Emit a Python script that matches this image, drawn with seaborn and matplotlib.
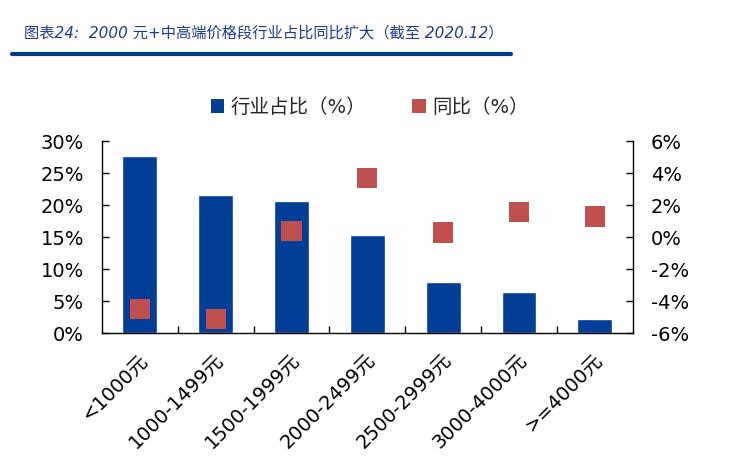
import matplotlib
matplotlib.use("Agg")
import matplotlib.pyplot as plt
import matplotlib.transforms as mtransforms
import seaborn as sns
import pandas as pd
from matplotlib.ticker import FuncFormatter, FixedLocator
from matplotlib.lines import Line2D
from matplotlib.patches import Patch

categories = ["<1000元", "1000-1499元", "1500-1999元", "2000-2499元",
              "2500-2999元", "3000-4000元", ">=4000元"]
share = [27.7, 21.6, 20.7, 15.4, 8.0, 6.4, 2.3]
yoy = [-4.5, -5.1, 0.4, 3.7, 0.3, 1.6, 1.3]

title = "图表24:  2000 元+中高端价格段行业占比同比扩大（截至 2020.12）"
legend_labels = ["行业占比（%）", "同比（%）"]

sns.set_theme(style="white")
plt.rcParams["font.family"] = ["DejaVu Sans", "Noto Sans CJK SC"]

BLUE = "#003E97"
RED = "#C0504D"

df = pd.DataFrame({"cat": categories, "share": share, "yoy": yoy})

fig = plt.figure(figsize=(7.32, 4.66), dpi=100)
ax = fig.add_axes([0.1393, 0.2848, 0.725, 0.412])

sns.barplot(data=df, x="cat", y="share", color=BLUE, saturation=1,
            width=0.46, ax=ax)
ax2 = ax.twinx()
sns.scatterplot(data=df, x="cat", y="yoy", color=RED, marker="s", s=210,
                edgecolor="none", ax=ax2, zorder=5)

ax.set_xlim(-0.5, 6.5)
ax.set_ylim(0, 30)
ax2.set_ylim(-6, 6)
ax.set_yticks([0, 5, 10, 15, 20, 25, 30])
ax2.set_yticks([-6, -4, -2, 0, 2, 4, 6])
ax.yaxis.set_major_formatter(FuncFormatter(lambda v, p: f"{v:.0f}%"))
ax2.yaxis.set_major_formatter(FuncFormatter(lambda v, p: f"{v:.0f}%"))
ax.set_xlabel("")
ax.set_ylabel("")
ax2.set_xlabel("")
ax2.set_ylabel("")

for a in (ax, ax2):
    a.spines["top"].set_visible(False)
    for s in a.spines.values():
        s.set_color("black")
        s.set_linewidth(1.0)
ax.spines["right"].set_visible(False)
ax2.spines["left"].set_visible(False)
ax2.spines["bottom"].set_visible(False)

ax.tick_params(axis="y", direction="in", length=5, width=1, pad=13,
               labelsize=14, colors="black", left=True)
ax2.tick_params(axis="y", direction="in", length=5, width=1, pad=13,
                labelsize=14, colors="black", right=True)
ax.tick_params(axis="x", which="major", length=0, pad=17, labelsize=14,
               colors="black")
ax.xaxis.set_minor_locator(FixedLocator([0.5, 1.5, 2.5, 3.5, 4.5, 5.5]))
ax.tick_params(axis="x", which="minor", direction="in", length=5, width=1,
               bottom=True, color="black")
shift = mtransforms.ScaledTranslation(5 / 100, 0, fig.dpi_scale_trans)
for lab in ax.get_xticklabels():
    lab.set_rotation(45)
    lab.set_ha("right")
    lab.set_rotation_mode("anchor")
    lab.set_va("center")
    lab.set_transform(lab.get_transform() + shift)

handles = [Patch(facecolor=BLUE, edgecolor="none"),
           Patch(facecolor=RED, edgecolor="none")]
fig.legend(handles, legend_labels, loc="center", bbox_to_anchor=(0.505, 0.77),
           ncol=2, frameon=False, fontsize=14, handlelength=0.7,
           handleheight=0.7, handletextpad=0.3, columnspacing=2.4)

fig.text(0.033, 0.929, title, fontsize=11, style="italic", color="#1F3D8F",
         ha="left", va="center")
fig.add_artist(Line2D([12 / 732, 511 / 732], [1 - 54 / 466, 1 - 54 / 466],
                      color="#003A8C", linewidth=3,
                      transform=fig.transFigure))

fig.savefig("out.png", dpi=100)
